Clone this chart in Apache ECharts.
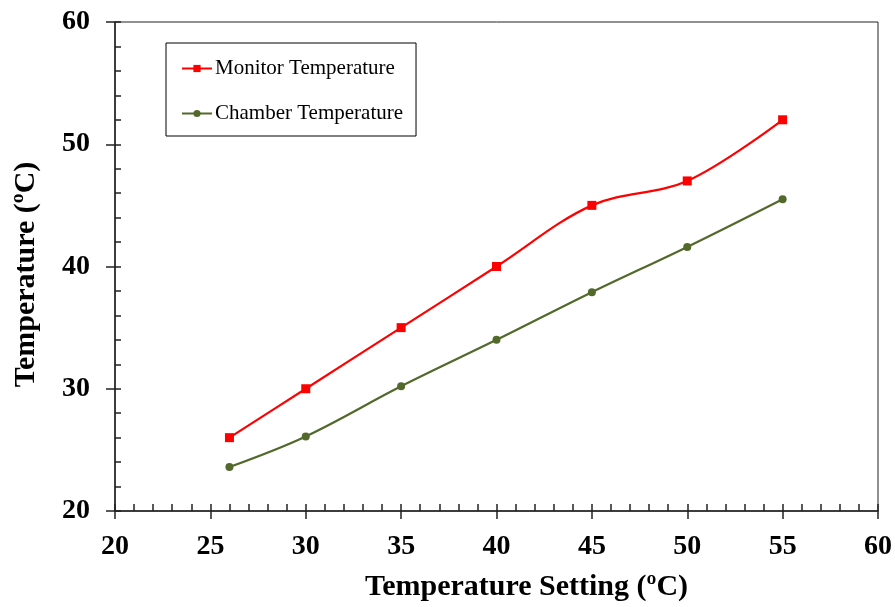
<!DOCTYPE html>
<html>
<head>
<meta charset="utf-8">
<script src="https://cdn.jsdelivr.net/npm/echarts@6/dist/echarts.min.js"></script>
<style>
  html, body { margin: 0; padding: 0; background: #fff; }
  #chart { width: 895px; height: 607px; }
</style>
</head>
<body>
<div id="chart"></div>
<script>
const settings = [26, 30, 35, 40, 45, 50, 55];
const monitorTemp = [26, 30, 35, 40, 45, 47, 52];
const chamberTemp = [23.6, 26.1, 30.2, 34, 37.9, 41.6, 45.5];

const FONT = '"Liberation Serif", "Times New Roman", serif';
const AXIS_COLOR = '#222';

const pairs = (xs, ys) => xs.map((x, i) => [x, ys[i]]);

const labelStyle = { fontFamily: FONT, fontWeight: 'bold', fontSize: 28, color: '#000' };
const titleStyle = { fontFamily: FONT, fontWeight: 'bold', fontSize: 30, color: '#000' };

const chart = echarts.init(document.getElementById('chart'));
chart.setOption({
  animation: false,
  grid: {
    left: 115, right: 17, top: 22, bottom: 94,
    show: true, borderColor: AXIS_COLOR, borderWidth: 1
  },
  legend: {
    left: 166,
    top: 43,
    orient: 'vertical',
    itemWidth: 30,
    itemHeight: 9,
    itemGap: 24,
    padding: [15, 13, 12, 15],
    borderColor: '#000',
    borderWidth: 1,
    textStyle: { fontFamily: FONT, fontSize: 21, color: '#000', padding: [0, 0, 0, -2] },
    data: ['Monitor Temperature', 'Chamber Temperature']
  },
  xAxis: [
    {
      type: 'value', min: 20, max: 60, interval: 5,
      name: 'Temperature Setting (ºC)',
      nameLocation: 'middle',
      nameGap: 61,
      nameTextStyle: Object.assign({ padding: [0, 0, 0, 60] }, titleStyle),
      axisLine: { show: true, lineStyle: { color: AXIS_COLOR, width: 1.5 } },
      axisTick: { show: true, inside: true, length: 7, lineStyle: { color: AXIS_COLOR, width: 1.5 } },
      minorTick: { show: true, splitNumber: 5, length: 7, lineStyle: { color: AXIS_COLOR, width: 1.5 } },
      axisLabel: Object.assign({ margin: 22 }, labelStyle),
      splitLine: { show: false }
    },
    {
      type: 'value', min: 20, max: 60, interval: 5, position: 'bottom',
      axisLine: { show: false },
      axisTick: { show: true, inside: false, length: 8, lineStyle: { color: AXIS_COLOR, width: 1.5 } },
      axisLabel: { show: false },
      splitLine: { show: false }
    }
  ],
  yAxis: [
    {
      type: 'value', min: 20, max: 60, interval: 10,
      name: 'Temperature (ºC)',
      nameLocation: 'middle',
      nameGap: 74,
      nameTextStyle: Object.assign({ padding: [0, 16, 0, 0] }, titleStyle),
      axisLine: { show: true, lineStyle: { color: AXIS_COLOR, width: 1.5 } },
      axisTick: { show: true, inside: true, length: 6, lineStyle: { color: AXIS_COLOR, width: 1.5 } },
      minorTick: { show: true, splitNumber: 5, length: 6, lineStyle: { color: AXIS_COLOR, width: 1.5 } },
      axisLabel: Object.assign({ margin: 25 }, labelStyle),
      splitLine: { show: false }
    },
    {
      type: 'value', min: 20, max: 60, interval: 10, position: 'left',
      axisLine: { show: false },
      axisTick: { show: true, inside: false, length: 9, lineStyle: { color: AXIS_COLOR, width: 1.5 } },
      axisLabel: { show: false },
      splitLine: { show: false }
    }
  ],
  series: [
    {
      name: 'Monitor Temperature',
      type: 'line',
      smooth: 0.35,
      data: pairs(settings, monitorTemp),
      symbol: 'rect',
      symbolSize: 9,
      itemStyle: { color: '#ff0000' },
      lineStyle: { color: '#ff0000', width: 2.2 }
    },
    {
      name: 'Chamber Temperature',
      type: 'line',
      smooth: 0.35,
      data: pairs(settings, chamberTemp),
      symbol: 'circle',
      symbolSize: 8,
      itemStyle: { color: '#53692b' },
      lineStyle: { color: '#53692b', width: 2.2 }
    }
  ]
});
</script>
</body>
</html>
